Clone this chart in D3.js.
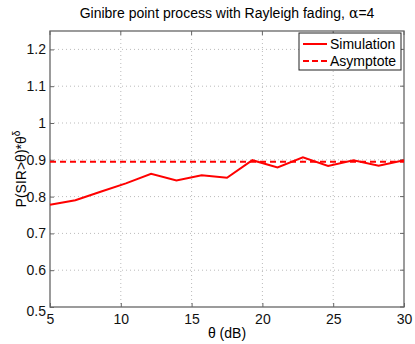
<!DOCTYPE html>
<html>
<head>
<meta charset="utf-8">
<script src="https://cdn.jsdelivr.net/npm/d3@7"></script>
<style>
  body { margin: 0; background: #fff; }
  svg { display: block; font-family: "Liberation Sans", Arial, sans-serif; }
</style>
</head>
<body>
<svg width="415" height="344"></svg>
<script>
// theta in dB, simulated coverage * theta^delta
var theta = [5, 6.79, 8.57, 10.36, 12.14, 13.93, 15.71, 17.5, 19.29, 21.07, 22.86, 24.64, 26.43, 28.21, 30];
var simulation = [0.778, 0.790, 0.813, 0.836, 0.862, 0.844, 0.858, 0.851, 0.899, 0.879, 0.907, 0.883, 0.899, 0.884, 0.899];
var asymptote = 0.895;
var xTicks = [5, 10, 15, 20, 25, 30];
var yTicks = [0.5, 0.6, 0.7, 0.8, 0.9, 1, 1.1, 1.2];

var svg = d3.select("svg"),
    margin = { top: 31, right: 11, bottom: 37, left: 50 },
    width = 415 - margin.left - margin.right,
    height = 344 - margin.top - margin.bottom;

var x = d3.scaleLinear().domain([5, 30]).range([0, width]),
    y = d3.scaleLinear().domain([0.5, 1.25]).range([height, 0]);

var g = svg.append("g").attr("transform", "translate(" + margin.left + "," + margin.top + ")");

// grid
g.selectAll(".gx").data(xTicks.slice(1, -1)).enter().append("line")
    .attr("x1", function(d) { return x(d); }).attr("x2", function(d) { return x(d); })
    .attr("y1", 0).attr("y2", height)
    .attr("stroke", "#bbb").attr("stroke-dasharray", "1,3");
g.selectAll(".gy").data(yTicks.slice(1)).enter().append("line")
    .attr("y1", function(d) { return y(d); }).attr("y2", function(d) { return y(d); })
    .attr("x1", 0).attr("x2", width)
    .attr("stroke", "#bbb").attr("stroke-dasharray", "1,3");

// axes
var xAxis = g.append("g")
    .attr("transform", "translate(0," + height + ")")
    .call(d3.axisBottom(x).tickValues(xTicks).tickSize(-4).tickPadding(7).tickFormat(d3.format("d")));
var yAxis = g.append("g")
    .call(d3.axisLeft(y).tickValues(yTicks).tickSize(-4).tickPadding(4).tickFormat(function(d) { return String(d); }));
[xAxis, yAxis].forEach(function(a) {
    a.select(".domain").remove();
    a.selectAll("line").attr("stroke", "#666");
    a.selectAll("text").attr("fill", "#111").style("font-size", "14px");
});
// top/right ticks
g.selectAll(".tx").data(xTicks).enter().append("line")
    .attr("x1", function(d) { return x(d); }).attr("x2", function(d) { return x(d); })
    .attr("y1", 0).attr("y2", 4).attr("stroke", "#666");
g.selectAll(".ty").data(yTicks).enter().append("line")
    .attr("y1", function(d) { return y(d); }).attr("y2", function(d) { return y(d); })
    .attr("x1", width).attr("x2", width - 4).attr("stroke", "#666");
// 0.5 label sits a bit below the corner
yAxis.selectAll(".tick text").filter(function(d) { return d === 0.5; }).attr("dy", "0.62em");

g.append("rect").attr("width", width).attr("height", height)
    .attr("fill", "none").attr("stroke", "#666").attr("stroke-width", 1.3);

// lines
var line = d3.line()
    .x(function(d, i) { return x(theta[i]); })
    .y(function(d) { return y(d); });
g.append("path").datum(simulation)
    .attr("d", line).attr("fill", "none").attr("stroke", "#ff0000").attr("stroke-width", 2);
g.append("line")
    .attr("x1", x(5)).attr("x2", x(30)).attr("y1", y(asymptote)).attr("y2", y(asymptote))
    .attr("stroke", "#ff0000").attr("stroke-width", 2).attr("stroke-dasharray", "6,4");

// legend
var lg = svg.append("g").attr("transform", "translate(299,33)");
lg.append("rect").attr("width", 102).attr("height", 37)
    .attr("fill", "#fff").attr("stroke", "#222").attr("stroke-width", 1);
lg.append("line").attr("x1", 4).attr("x2", 28).attr("y1", 11).attr("y2", 11)
    .attr("stroke", "#ff0000").attr("stroke-width", 2);
lg.append("line").attr("x1", 4).attr("x2", 28).attr("y1", 28).attr("y2", 28)
    .attr("stroke", "#ff0000").attr("stroke-width", 2).attr("stroke-dasharray", "6,3");
lg.append("text").attr("x", 31).attr("y", 16).style("font-size", "14px").text("Simulation");
lg.append("text").attr("x", 31).attr("y", 33).style("font-size", "14px").text("Asymptote");

// title and labels
svg.append("text").attr("x", 227).attr("y", 18).attr("text-anchor", "middle")
    .style("font-size", "14px")
    .html("Ginibre point process with Rayleigh fading, <tspan font-family='DejaVu Serif'>α</tspan>=4");
svg.append("text").attr("x", margin.left + width / 2).attr("y", 338).attr("text-anchor", "middle")
    .style("font-size", "14px").text("θ (dB)");
svg.append("text")
    .attr("transform", "translate(26," + (margin.top + height / 2) + ") rotate(-90)")
    .attr("text-anchor", "middle").style("font-size", "14px")
    .html("P(SIR&gt;θ)*θ<tspan dy='-6' font-size='10px'>δ</tspan>");
</script>
</body>
</html>
